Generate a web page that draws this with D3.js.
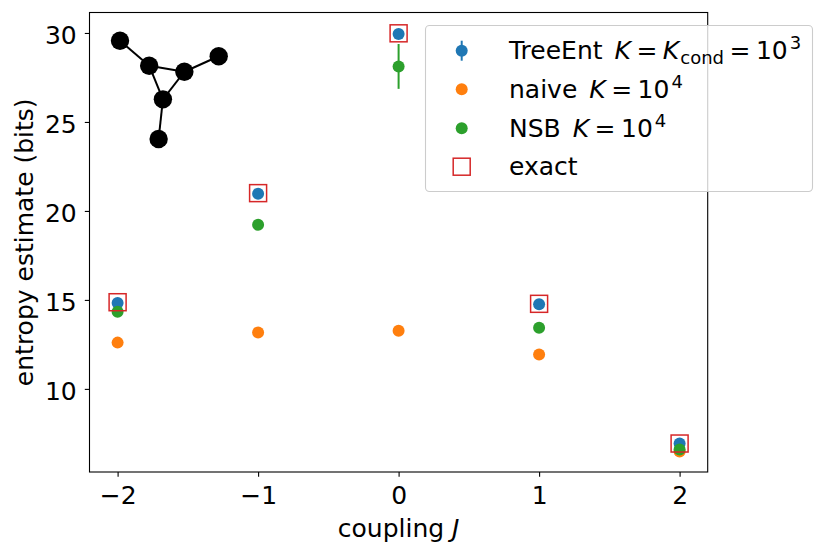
<!DOCTYPE html>
<html><head><meta charset="utf-8">
<script src="https://cdn.jsdelivr.net/npm/d3@7"></script>
<style>
body{margin:0;background:#fff;}
text{font-family:"DejaVu Sans",sans-serif;}
</style></head>
<body>
<svg id="c" width="831" height="557"></svg>
<script>
const couplings = [-2, -1, 0, 1, 2];
const treeEnt = [14.82, 20.97, 29.94, 14.75, 6.93];
const treeEntErr = [0.05, 0.05, 0.05, 0.05, 0.05];
const naive = [12.6, 13.17, 13.27, 11.93, 6.48];
const nsb = [14.33, 19.22, 28.12, 13.43, 6.6];
const nsbErr = [0.1, 0.1, 1.26, 0.1, 0.1];
const exact = [14.87, 21.0, 29.98, 14.78, 6.93];
const xTicks = [-2, -1, 0, 1, 2];
const yTicks = [10, 15, 20, 25, 30];
// inset graph (layout units)
const graphNodes = [[0,0],[1.7,1.45],[3.75,1.8],[5.75,0.9],[2.5,3.4],[2.25,5.7]];
const graphEdges = [[0,1],[1,2],[2,3],[1,4],[2,4],[4,5]];

const C = {blue:"#1f77b4", orange:"#ff7f0e", green:"#2ca02c", red:"#d62728"};
const FS = 25;
const svg = d3.select("#c");
const L=89.5, R=707.7, T=12.5, B=472;
const x = d3.scaleLinear().domain([-2.2,2.2]).range([L,R]);
const y = d3.scaleLinear().domain([5.33,31.15]).range([B,T]);

// inset graph
const gx = d3.scaleLinear().domain([0,5.75]).range([120,218.7]);
const gy = d3.scaleLinear().domain([0,5.7]).range([40.7,139]);
const ig = svg.append("g");
graphEdges.forEach(e=>{
  ig.append("line").attr("x1",gx(graphNodes[e[0]][0])).attr("y1",gy(graphNodes[e[0]][1]))
    .attr("x2",gx(graphNodes[e[1]][0])).attr("y2",gy(graphNodes[e[1]][1]))
    .attr("stroke","#000").attr("stroke-width",2);
});
ig.selectAll("circle").data(graphNodes).join("circle")
  .attr("cx",d=>gx(d[0])).attr("cy",d=>gy(d[1])).attr("r",9.2).attr("fill","#000");

// data
const pts = svg.append("g");
couplings.forEach((c,i)=>{
  pts.append("line").attr("x1",x(c)).attr("x2",x(c))
    .attr("y1",y(treeEnt[i]-treeEntErr[i])).attr("y2",y(treeEnt[i]+treeEntErr[i]))
    .attr("stroke",C.blue).attr("stroke-width",2);
});
couplings.forEach((c,i)=>{
  pts.append("circle").attr("cx",x(c)).attr("cy",y(treeEnt[i])).attr("r",6).attr("fill",C.blue);
});
couplings.forEach((c,i)=>{
  pts.append("circle").attr("cx",x(c)).attr("cy",y(naive[i])).attr("r",6).attr("fill",C.orange);
});
couplings.forEach((c,i)=>{
  pts.append("line").attr("x1",x(c)).attr("x2",x(c))
    .attr("y1",y(nsb[i]-nsbErr[i])).attr("y2",y(nsb[i]+nsbErr[i]))
    .attr("stroke",C.green).attr("stroke-width",2);
  pts.append("circle").attr("cx",x(c)).attr("cy",y(nsb[i])).attr("r",6).attr("fill",C.green);
});
couplings.forEach((c,i)=>{
  pts.append("rect").attr("x",x(c)-8.5).attr("y",y(exact[i])-8.5).attr("width",17).attr("height",17)
    .attr("fill","none").attr("stroke",C.red).attr("stroke-width",1.5);
});

// frame
svg.append("rect").attr("x",L).attr("y",T).attr("width",R-L).attr("height",B-T)
  .attr("fill","none").attr("stroke","#000").attr("stroke-width",1.1);

// axes
const fmt = d=> d<0 ? "\u2212"+Math.abs(d) : String(d);
const xa = svg.append("g").attr("transform",`translate(0,${B})`)
  .call(d3.axisBottom(x).tickValues(xTicks).tickFormat(fmt).tickSize(4.7));
const ya = svg.append("g").attr("transform",`translate(${L},0)`)
  .call(d3.axisLeft(y).tickValues(yTicks).tickFormat(fmt).tickSize(4.7));
[xa,ya].forEach(a=>{
  a.select(".domain").remove();
  a.selectAll(".tick line").attr("stroke","#000").attr("stroke-width",1.1);
  a.selectAll(".tick text").attr("fill","#000").style("font-size",FS+"px").style("font-family","DejaVu Sans");
});
xa.selectAll(".tick text").attr("y",32).attr("dy","0");
ya.selectAll(".tick text").attr("x",-12.8).attr("dy","0.42em");

// axis labels
const xl = svg.append("text").attr("x",(L+R)/2).attr("y",537).attr("text-anchor","middle")
  .style("font-size",FS+"px");
xl.append("tspan").text("coupling ");
xl.append("tspan").style("font-style","italic").text("J");
svg.append("text").attr("transform",`translate(33,${(T+B)/2}) rotate(-90)`)
  .attr("text-anchor","middle").style("font-size",FS+"px").text("entropy estimate (bits)");

// legend
const lg = svg.append("g");
lg.append("rect").attr("x",425.5).attr("y",25.5).attr("width",387).attr("height",166)
  .attr("rx",4).attr("fill","#fff").attr("fill-opacity",0.8).attr("stroke","#ccc").attr("stroke-width",1.1);
const mx = 461.7, tx = 509, rows=[50.7,89.3,128.3,166.7];
lg.append("line").attr("x1",mx).attr("x2",mx).attr("y1",rows[0]-10).attr("y2",rows[0]+10)
  .attr("stroke",C.blue).attr("stroke-width",2);
lg.append("circle").attr("cx",mx).attr("cy",rows[0]).attr("r",6).attr("fill",C.blue);
lg.append("circle").attr("cx",mx).attr("cy",rows[1]).attr("r",6).attr("fill",C.orange);
lg.append("circle").attr("cx",mx).attr("cy",rows[2]).attr("r",6).attr("fill",C.green);
lg.append("rect").attr("x",mx-8.5).attr("y",rows[3]-8.5).attr("width",17).attr("height",17)
  .attr("fill","none").attr("stroke",C.red).attr("stroke-width",1.5);

function addLabel(yy, parts){
  const t = lg.append("text").attr("x",tx).attr("y",yy+8.5).style("font-size",FS+"px");
  parts.forEach(p=>{
    const s = t.append("tspan").text(p.t);
    if(p.i) s.style("font-style","italic");
    if(p.dx) s.attr("dx",p.dx);
    if(p.dy) s.attr("dy",p.dy);
    if(p.small) s.style("font-size",(FS*0.72)+"px");
  });
}
addLabel(rows[0],[{t:"TreeEnt "},{t:"K",i:1,dx:4},{t:"=",dx:5.5},{t:"K",i:1,dx:5.5},{t:"cond",small:1,dy:5,dx:1},
  {t:"=",dx:5.5,dy:-5},{t:"10",dx:5.5},{t:"3",small:1,dy:-10,dx:2}]);
addLabel(rows[1],[{t:"naive "},{t:"K",i:1,dx:4},{t:"=",dx:5.5},{t:"10",dx:5.5},{t:"4",small:1,dy:-10,dx:2}]);
addLabel(rows[2],[{t:"NSB "},{t:"K",i:1,dx:4},{t:"=",dx:5.5},{t:"10",dx:5.5},{t:"4",small:1,dy:-10,dx:2}]);
addLabel(rows[3],[{t:"exact"}]);
</script>
</body></html>
